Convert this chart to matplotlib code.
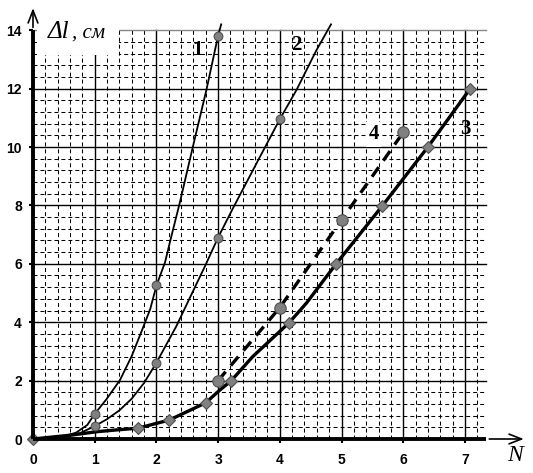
import numpy as np
import matplotlib
matplotlib.use("Agg")
import matplotlib.pyplot as plt
from matplotlib.patches import Rectangle

# curve 1 (thin, circles)
c1_x = [0, 0.3, 0.5, 0.7, 0.88, 1.0, 1.19, 1.41, 1.6, 1.79, 1.9, 2.0, 2.14, 2.22, 2.38, 2.59, 2.81, 3.0, 3.05]
c1_y = [0, 0.03, 0.09, 0.22, 0.48, 0.86, 1.36, 2.02, 2.84, 3.85, 4.45, 5.25, 6.05, 6.75, 8.1, 10.0, 11.95, 13.81, 14.2]
m1_x = [1, 2, 3]
m1_y = [0.86, 5.27, 13.81]

# curve 2 (thin, circles)
c2_x = [0, 0.5, 0.76, 1.0, 1.2, 1.4, 1.6, 1.8, 2.0, 2.32, 2.81, 3.0, 3.24, 3.65, 4.0, 4.27, 4.59, 4.83]
c2_y = [0, 0.07, 0.2, 0.44, 0.68, 0.98, 1.38, 1.92, 2.61, 3.85, 6.02, 6.9, 7.9, 9.55, 10.95, 11.95, 13.3, 14.2]
m2_x = [1, 2, 3, 4]
m2_y = [0.44, 2.61, 6.9, 10.95]

# curve 3 (thick, diamonds)
c3_x = [0, 0.65, 1.03, 1.35, 1.7, 2.21, 2.8, 3.03, 3.21, 3.56, 4.15, 4.43, 4.91, 5.66, 6.4, 7.08]
c3_y = [0, 0.14, 0.25, 0.31, 0.37, 0.65, 1.24, 1.68, 1.99, 2.82, 3.98, 4.65, 5.99, 7.98, 10.0, 11.98]
m3_x = [0, 1.7, 2.21, 2.8, 3.21, 4.15, 4.91, 5.66, 6.4, 7.08]
m3_y = [0, 0.37, 0.65, 1.24, 1.99, 3.98, 5.99, 7.98, 10.0, 11.98]

# curve 4 (dashed, big circles)
m4_x = [3, 4, 5, 6]
m4_y = [2.0, 4.5, 7.5, 10.5]

xticks = [0, 1, 2, 3, 4, 5, 6, 7]
yticks = [0, 2, 4, 6, 8, 10, 12, 14]

fig = plt.figure(figsize=(5.33, 4.73), dpi=100)
W, H = 533, 473
ax = fig.add_axes([33 / W, 34 / H, 8.05 * 61.7 / W, 14.9 * 29.2 / H])
ax.set_xlim(0, 8.05)
ax.set_ylim(0, 14.9)
for s in ax.spines.values():
    s.set_visible(False)

gx_max, gy_max = 7.35, 14
# minor grid
for v in np.arange(0.2, 7.3, 0.2):
    if abs(v - round(v)) > 1e-6:
        ax.plot([v, v], [0, gy_max], color='k', lw=0.75, ls=(0, (3.8, 2.9)), zorder=1)
for v in np.arange(0.4, 14, 0.4):
    if abs(v / 2 - round(v / 2)) > 1e-6:
        ax.plot([0, gx_max], [v, v], color='k', lw=0.75, ls=(0, (3.8, 2.9)), zorder=1)
# major grid
for v in xticks[1:]:
    ax.plot([v, v], [0, gy_max], color='k', lw=1.0, zorder=1)
for v in yticks[1:-1]:
    ax.plot([0, gx_max], [v, v], color='k', lw=1.0, zorder=1)
ax.plot([0, gx_max], [14, 14], color='#888888', lw=1.0, zorder=1)

# white box behind the axis title
ax.add_patch(Rectangle((0.07, 13.15), 1.33, 1.6, facecolor='white', edgecolor='none', zorder=2))

# axes with arrows
ax.plot([0, gx_max], [0, 0], color='k', lw=2.8, zorder=6, clip_on=False, solid_capstyle='butt')
ax.plot([0, 0], [0, 14], color='k', lw=2.8, zorder=6, clip_on=False, solid_capstyle='butt')
ax.annotate('', xy=(8.0, 0), xytext=(gx_max, 0),
            arrowprops=dict(arrowstyle='->,head_length=0.9,head_width=0.35', lw=1.2, color='k'),
            annotation_clip=False, zorder=6)
ax.annotate('', xy=(0, 14.85), xytext=(0, 14),
            arrowprops=dict(arrowstyle='->,head_length=0.9,head_width=0.35', lw=1.2, color='k'),
            annotation_clip=False, zorder=6)

mk = dict(markerfacecolor='#808080', markeredgecolor='#505050', markeredgewidth=0.8, zorder=5, clip_on=False)
ax.plot(c1_x, c1_y, color='k', lw=1.3, zorder=4, clip_on=False)
ax.plot(m1_x, m1_y, 'o', ms=6.3, **mk)
ax.plot(c2_x, c2_y, color='k', lw=1.3, zorder=4, clip_on=False)
ax.plot(m2_x, m2_y, 'o', ms=6.3, **mk)
ax.plot(c3_x, c3_y, color='k', lw=2.4, zorder=4)
ax.plot(m3_x, m3_y, 'D', ms=6.0, **mk)
ax.plot(m4_x, m4_y, color='k', lw=2.4, ls=(0, (3.5, 2.4)), zorder=4)
ax.plot(m4_x, m4_y, 'o', ms=8.2, **mk)

ax.set_xticks(xticks)
ax.set_yticks(yticks)
ax.tick_params(direction='out', length=3, width=1.5, color='k')
ax.tick_params(axis='x', pad=7)
ax.tick_params(axis='y', pad=5)
for lab in ax.get_xticklabels() + ax.get_yticklabels():
    lab.set_fontfamily('Liberation Sans')
    lab.set_fontweight('bold')
    lab.set_fontsize(10)

serif = 'Liberation Serif'
ax.text(0.24, 13.74, 'Δl', fontsize=18, fontstyle='italic', family=serif, va='baseline', zorder=7)
ax.text(0.63, 13.74, ', см', fontsize=15, fontstyle='italic', family=serif, va='baseline', zorder=7)
ax.text(7.81, -0.58, 'N', fontsize=17, fontstyle='italic', family=serif, ha='center', va='center',
        clip_on=False)

lbl = dict(fontsize=15, fontweight='bold', family=serif, ha='center', va='center', zorder=7)
ax.text(2.66, 13.33, '1', **lbl)
ax.text(4.27, 13.49, '2', **lbl)
ax.text(7.0, 10.62, '3', **lbl)
ax.text(5.52, 10.43, '4', bbox=dict(facecolor='white', edgecolor='none', pad=1.5), **lbl)

fig.savefig('out.png', dpi=100)
